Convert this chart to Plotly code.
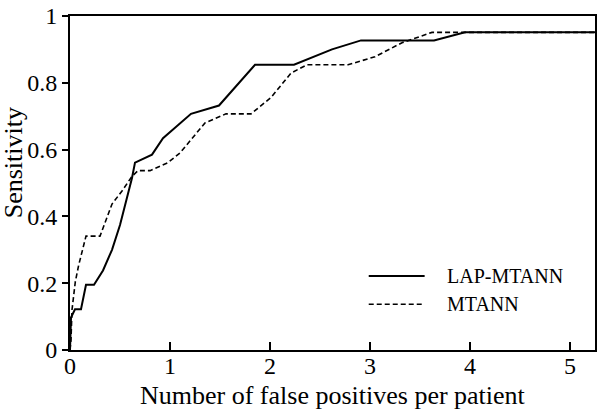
import plotly.graph_objects as go

# LAP-MTANN (solid)
lap_x = [0, 0.01, 0.05, 0.11, 0.16, 0.24, 0.33, 0.42, 0.50, 0.57, 0.62, 0.65, 0.82, 0.93,
         1.21, 1.49, 1.85, 2.24, 2.62, 2.91, 3.64, 3.95, 5.25]
lap_y = [0, 0.097, 0.122, 0.122, 0.195, 0.195, 0.238, 0.30, 0.374, 0.457, 0.515, 0.561, 0.585, 0.634,
         0.707, 0.732, 0.854, 0.854, 0.90, 0.927, 0.927, 0.951, 0.951]

# MTANN (dashed)
mt_x = [0, 0.01, 0.02, 0.053, 0.086, 0.16, 0.30, 0.42, 0.52, 0.62, 0.68, 0.80, 0.98, 1.10,
        1.35, 1.56, 1.81, 2.01, 2.21, 2.37, 2.78, 3.05, 3.32, 3.62, 5.25]
mt_y = [0, 0.03, 0.12, 0.204, 0.253, 0.341, 0.341, 0.437, 0.476, 0.52, 0.537, 0.537, 0.561, 0.59,
        0.68, 0.707, 0.707, 0.756, 0.829, 0.854, 0.854, 0.878, 0.92, 0.951, 0.951]

x_ticks = [0, 1, 2, 3, 4, 5]
y_ticks = [0, 0.2, 0.4, 0.6, 0.8, 1]
y_tick_text = ["0", "0.2", "0.4", "0.6", "0.8", "1"]
names = ["LAP-MTANN", "MTANN"]
x_title = "Number of false positives per patient"
y_title = "Sensitivity"

FONT = "Liberation Serif, Times New Roman, serif"

fig = go.Figure()
fig.add_trace(go.Scatter(x=lap_x, y=lap_y, mode="lines", name=names[0],
                         line=dict(color="black", width=2), showlegend=False))
fig.add_trace(go.Scatter(x=mt_x, y=mt_y, mode="lines", name=names[1],
                         line=dict(color="black", width=1.6, dash="5px,3px"), showlegend=False))

# legend keys
legend_rows = [(0.2216, "solid", 2), (0.137, "5px,3px", 1.6)]
for (yy, dash, w), nm in zip(legend_rows, names):
    fig.add_shape(type="line", xref="paper", yref="paper", x0=0.569, x1=0.6755, y0=yy, y1=yy,
                  line=dict(color="black", width=w, dash=dash))
    fig.add_annotation(xref="paper", yref="paper", x=0.715, y=yy, text=nm, showarrow=False,
                       xanchor="left", yanchor="middle", font=dict(family=FONT, size=20, color="black"))

# axis titles
fig.add_annotation(xref="paper", yref="paper", x=0.5, y=-0.137, text=x_title, showarrow=False,
                   xanchor="center", yanchor="middle", font=dict(family=FONT, size=26, color="black"))
fig.add_annotation(xref="paper", yref="paper", x=-0.106, y=0.56, text=y_title, showarrow=False,
                   textangle=-90, xanchor="center", yanchor="middle",
                   font=dict(family=FONT, size=26, color="black"))

fig.update_layout(
    width=600, height=412,
    margin=dict(l=70, r=3, t=7, b=62),
    plot_bgcolor="white", paper_bgcolor="white",
    font=dict(family=FONT, color="black"),
    xaxis=dict(range=[0, 5.25], tickvals=x_ticks, ticks="inside", ticklen=8, tickwidth=1.5,
               tickcolor="black", showline=True, linecolor="black", linewidth=2, mirror=True,
               showgrid=False, zeroline=False, tickfont=dict(size=24, family=FONT),
               ticklabelstandoff=-7),
    yaxis=dict(range=[0, 1], tickvals=y_ticks, ticktext=y_tick_text, ticks="outside", ticklen=6,
               tickwidth=1.5, tickcolor="black", showline=True, linecolor="black", linewidth=2,
               mirror=True, showgrid=False, zeroline=False, tickfont=dict(size=24, family=FONT),
               ticklabeloverflow="allow"),
)

fig.write_html("out.html", post_script="document.body.style.margin='0';",
               config={"displayModeBar": False})
